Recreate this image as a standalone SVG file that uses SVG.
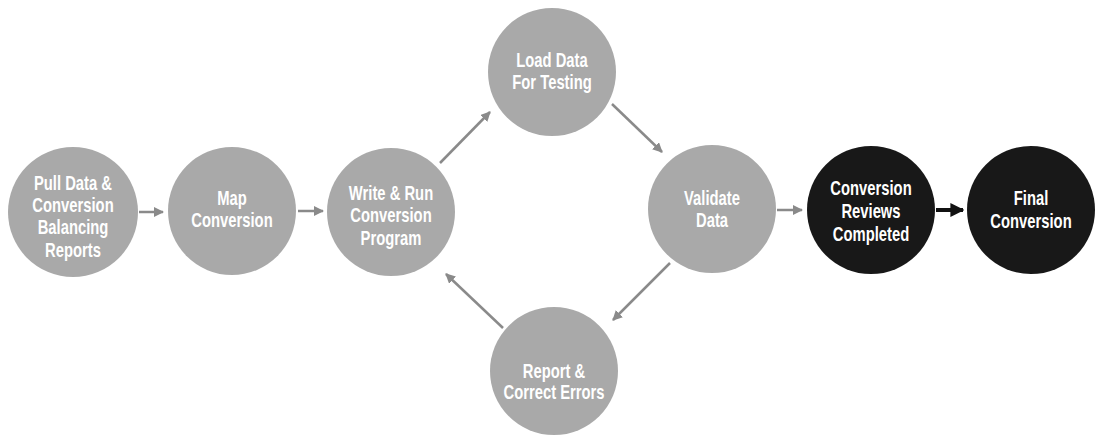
<svg xmlns="http://www.w3.org/2000/svg" width="1095" height="436" viewBox="0 0 1095 436">
<style>
.g{fill:#a9a9a9}
.d{fill:#181818}
.t{font-family:"Liberation Sans",Arial,sans-serif;font-weight:bold;font-size:20px;fill:#ffffff;text-anchor:middle}
.c{stroke:#8a8a8a;stroke-width:2.5;fill:none;marker-end:url(#ag)}
.k{stroke:#111;stroke-width:4;fill:none;marker-end:url(#ak)}
</style>
<defs>
<marker id="ag" viewBox="0 0 10 10" refX="9" refY="5" markerWidth="4" markerHeight="4" orient="auto" markerUnits="strokeWidth"><path d="M0,0 L10,5 L0,10 z" fill="#8a8a8a"/></marker>
<marker id="ak" viewBox="0 0 10 10" refX="9" refY="5" markerWidth="3.5" markerHeight="3.5" orient="auto" markerUnits="strokeWidth"><path d="M0,0 L10,5 L0,10 z" fill="#111"/></marker>
</defs>
<rect width="1095" height="436" fill="#ffffff"/>
<g id="connectors">
<line class="c" x1="139" y1="212" x2="163" y2="212"/>
<line class="c" x1="298" y1="211" x2="323" y2="211"/>
<line class="c" x1="440" y1="163" x2="490" y2="112"/>
<line class="c" x1="612" y1="104" x2="662" y2="152"/>
<line class="c" x1="670" y1="263" x2="613" y2="320"/>
<line class="c" x1="503" y1="328" x2="446" y2="274"/>
<line class="c" x1="777" y1="210" x2="802" y2="210"/>
<line class="k" x1="936" y1="210" x2="963" y2="210"/>
</g>
<g id="n1"><circle class="g" cx="73" cy="212" r="65"/>
<g transform="translate(73 0) scale(0.74 1)"><text class="t" x="0" y="190">Pull Data &amp;</text><text class="t" x="0" y="212">Conversion</text><text class="t" x="0" y="234">Balancing</text><text class="t" x="0" y="257">Reports</text></g></g>
<g id="n2"><circle class="g" cx="232" cy="211" r="64"/>
<g transform="translate(232 0) scale(0.74 1)"><text class="t" x="0" y="205">Map</text><text class="t" x="0" y="227">Conversion</text></g></g>
<g id="n3"><circle class="g" cx="391" cy="212" r="64"/>
<g transform="translate(391 0) scale(0.74 1)"><text class="t" x="0" y="200">Write &amp; Run</text><text class="t" x="0" y="222">Conversion</text><text class="t" x="0" y="245">Program</text></g></g>
<g id="n4"><circle class="g" cx="552" cy="72" r="64"/>
<g transform="translate(552 0) scale(0.74 1)"><text class="t" x="0" y="67">Load Data</text><text class="t" x="0" y="89">For Testing</text></g></g>
<g id="n5"><circle class="g" cx="712" cy="209" r="64"/>
<g transform="translate(712 0) scale(0.74 1)"><text class="t" x="0" y="205">Validate</text><text class="t" x="0" y="227">Data</text></g></g>
<g id="n6"><circle class="d" cx="871" cy="210" r="64"/>
<g transform="translate(871 0) scale(0.74 1)"><text class="t" x="0" y="195">Conversion</text><text class="t" x="0" y="218">Reviews</text><text class="t" x="0" y="241">Completed</text></g></g>
<g id="n7"><circle class="d" cx="1031" cy="210" r="64"/>
<g transform="translate(1031 0) scale(0.74 1)"><text class="t" x="0" y="205">Final</text><text class="t" x="0" y="228">Conversion</text></g></g>
<g id="n8"><circle class="g" cx="554" cy="371" r="64"/>
<g transform="translate(554 0) scale(0.74 1)"><text class="t" x="0" y="378">Report &amp;</text><text class="t" x="0" y="399">Correct Errors</text></g></g>
</svg>
